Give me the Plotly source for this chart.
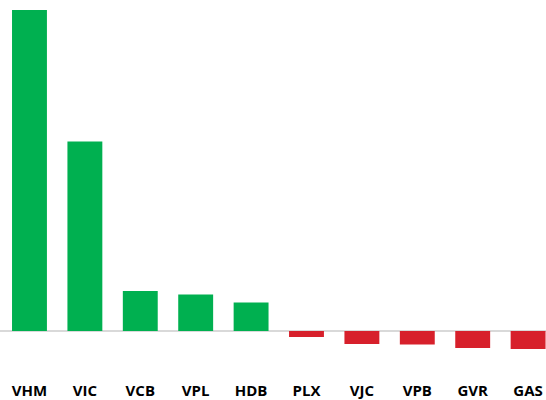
import plotly.graph_objects as go

categories = ["VHM", "VIC", "VCB", "VPL", "HDB", "PLX", "VJC", "VPB", "GVR", "GAS"]
values = [321, 189.5, 40, 36.5, 28.5, -6, -13, -13.5, -17, -18]

GREEN = "#00B050"
RED = "#D7202B"
colors = [GREEN if v >= 0 else RED for v in values]

fig = go.Figure(
    go.Bar(
        x=list(range(len(categories))),
        y=values,
        marker=dict(color=colors, line=dict(width=0)),
        width=0.63,
        hoverinfo="skip",
    )
)

fig.update_layout(
    width=546,
    height=400,
    margin=dict(l=0, r=0, t=10, b=30),
    paper_bgcolor="white",
    plot_bgcolor="white",
    showlegend=False,
    xaxis=dict(
        range=[-0.532, 9.323],
        tickmode="array",
        tickvals=list(range(len(categories))),
        ticktext=categories,
        showgrid=False,
        zeroline=False,
        showline=False,
        ticks="",
        automargin=False,
        ticklabelstandoff=10,
        tickfont=dict(family="Open Sans", size=15, color="#000000", weight="bold"),
        fixedrange=True,
    ),
    yaxis=dict(
        range=[-39, 321],
        showgrid=False,
        showticklabels=False,
        zeroline=True,
        zerolinecolor="#D9D9D9",
        zerolinewidth=2,
        showline=False,
        ticks="",
        automargin=False,
        fixedrange=True,
    ),
)

fig.write_html(
    "out.html",
    config={"displayModeBar": False},
    post_script="document.body.style.margin='0';document.body.style.overflow='hidden';",
)
